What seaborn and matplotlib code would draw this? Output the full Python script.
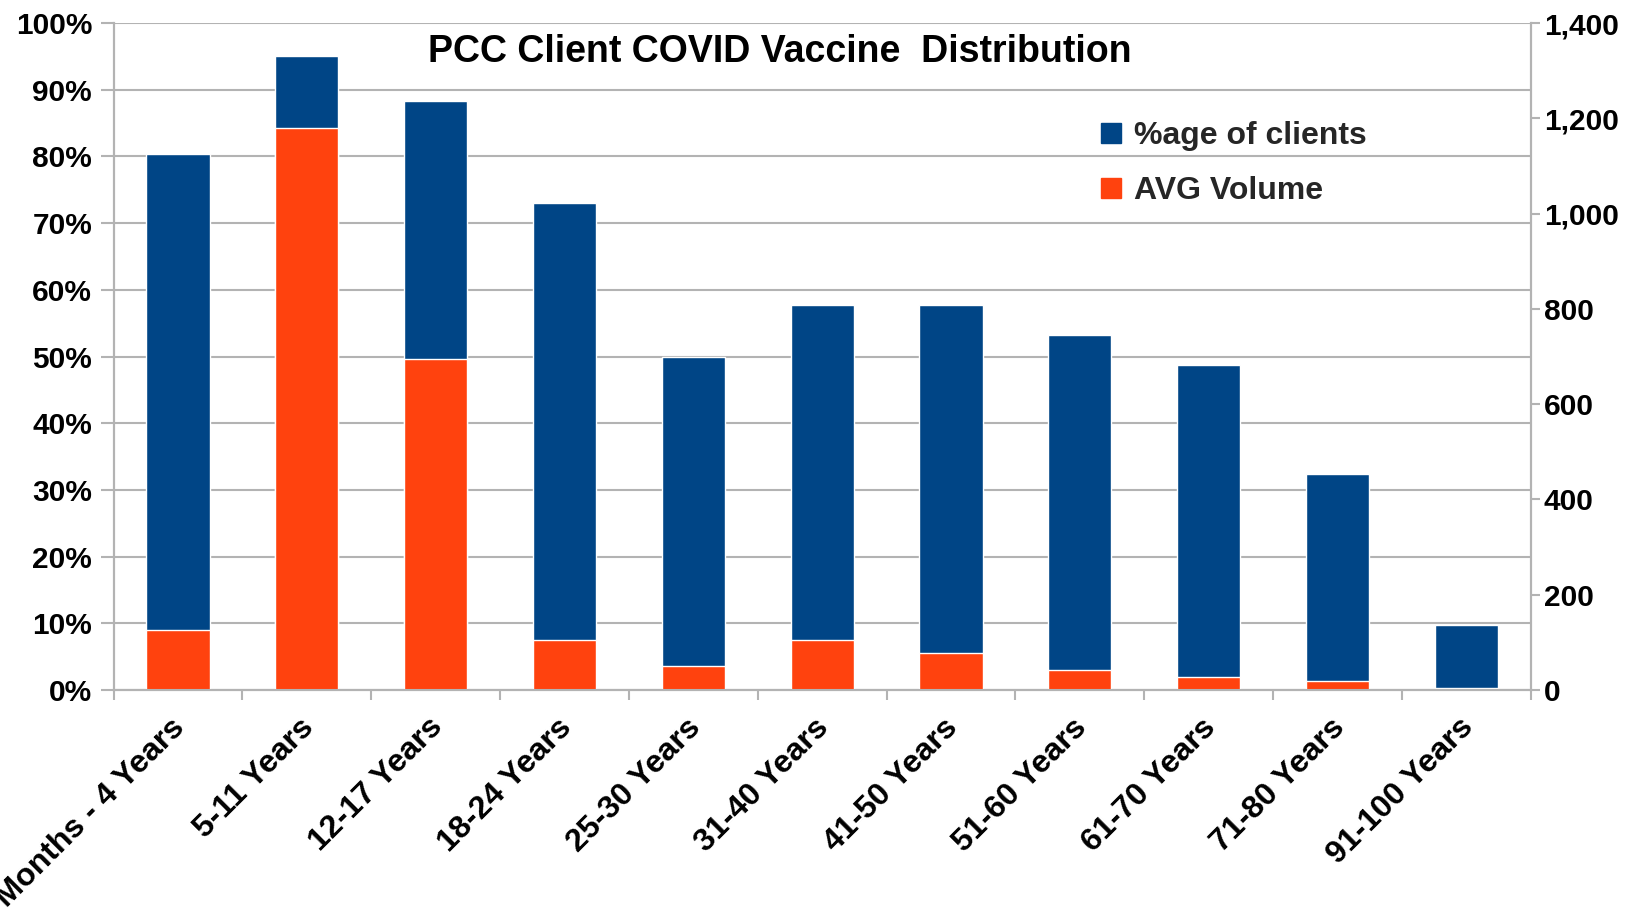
import matplotlib
matplotlib.use("Agg")
import matplotlib.pyplot as plt
import matplotlib.transforms as mtransforms
import numpy as np
import pandas as pd
import seaborn as sns
from matplotlib.lines import Line2D
from matplotlib.ticker import FuncFormatter, FixedLocator

# Data
age_groups = [
    "6 Months - 4 Years", "5-11 Years", "12-17 Years", "18-24 Years",
    "25-30 Years", "31-40 Years", "41-50 Years", "51-60 Years",
    "61-70 Years", "71-80 Years", "91-100 Years",
]
pct_clients = [80.4, 95.0, 88.3, 73.0, 49.9, 57.8, 57.8, 53.2, 48.7, 32.4, 9.8]
avg_volume = [126, 1179, 695, 104, 51, 104, 77, 42, 27, 18, 4]

blue = "#004586"
orange = "#ff420e"
grid_grey = "#b3b3b3"

df = pd.DataFrame({"Age": age_groups, "Pct": pct_clients, "Vol": avg_volume})

sns.set_theme(style="white")
plt.rcParams["font.family"] = ["Liberation Sans", "DejaVu Sans"]
plt.rcParams["font.weight"] = "bold"

fig = plt.figure(figsize=(16.35, 9.23), dpi=100)
ax = fig.add_axes([0.0695, 0.2524, 0.8667, 0.7226])

sns.barplot(data=df, x="Age", y="Pct", ax=ax, color=blue, saturation=1,
            width=0.49, zorder=2)
ax2 = ax.twinx()
sns.barplot(data=df, x="Age", y="Vol", ax=ax2, color=orange, saturation=1,
            width=0.49, zorder=2)

ax.set_xlim(-0.5, len(age_groups) - 0.5)
ax.set_ylim(0, 100)
ax.set_yticks(np.arange(0, 101, 10))
ax.yaxis.set_major_formatter(FuncFormatter(lambda v, p: f"{v:.0f}%"))
ax2.set_ylim(0, 1400)
ax2.set_yticks(np.arange(0, 1401, 200))
ax2.yaxis.set_major_formatter(FuncFormatter(lambda v, p: f"{v:,.0f}"))

ax.set_axisbelow(True)
ax.grid(axis="y", color=grid_grey, linewidth=1.5)
ax.grid(axis="x", visible=False)
ax2.grid(False)
ax.set_xlabel("")
ax.set_ylabel("")
ax2.set_ylabel("")

for a in (ax, ax2):
    for side in ("left", "right", "bottom"):
        a.spines[side].set_visible(True)
        a.spines[side].set_color(grid_grey)
        a.spines[side].set_linewidth(1.5)
    a.spines["top"].set_visible(False)

ax.tick_params(axis="y", which="major", length=9.5, width=1.5, color=grid_grey,
               labelsize=21.5, pad=6, labelcolor="black", left=True)
ax2.tick_params(axis="y", which="major", length=6.5, width=1.5, color=grid_grey,
                labelsize=21.5, pad=3, labelcolor="black", right=True)

# category ticks sit between the bars
ax.xaxis.set_minor_locator(FixedLocator(np.arange(-0.5, len(age_groups), 1)))
ax.tick_params(axis="x", which="minor", length=7, width=1.5, color=grid_grey,
               bottom=True)
ax.tick_params(axis="x", which="major", length=0, pad=16, labelsize=23,
               labelcolor="black")
ax.set_xticks(range(len(age_groups)))
ax.set_xticklabels(age_groups, rotation=45, ha="right",
                   rotation_mode="anchor", fontweight="bold")
shift = mtransforms.ScaledTranslation(-8 / 100, 0, fig.dpi_scale_trans)
for lbl in ax.get_xticklabels():
    lbl.set_transform(lbl.get_transform() + shift)
for lbl in ax.get_yticklabels() + ax2.get_yticklabels():
    lbl.set_fontweight("bold")

ax.text(0.47, 0.957, "PCC Client COVID Vaccine  Distribution",
        transform=ax.transAxes, ha="center", va="center",
        fontsize=27, fontweight="bold", color="black", zorder=5)

handles = [
    Line2D([], [], marker="s", linestyle="", color=blue, markersize=14.5),
    Line2D([], [], marker="s", linestyle="", color=orange, markersize=14.5),
]
leg = ax2.legend(handles, ["%age of clients", "AVG Volume"],
                 loc="upper left", bbox_to_anchor=(0.686, 0.872),
                 frameon=False, fontsize=23, handlelength=0.8,
                 handletextpad=0.3, labelspacing=0.78, borderaxespad=0)
for t in leg.get_texts():
    t.set_fontweight("bold")

fig.savefig("out.png", dpi=100)
